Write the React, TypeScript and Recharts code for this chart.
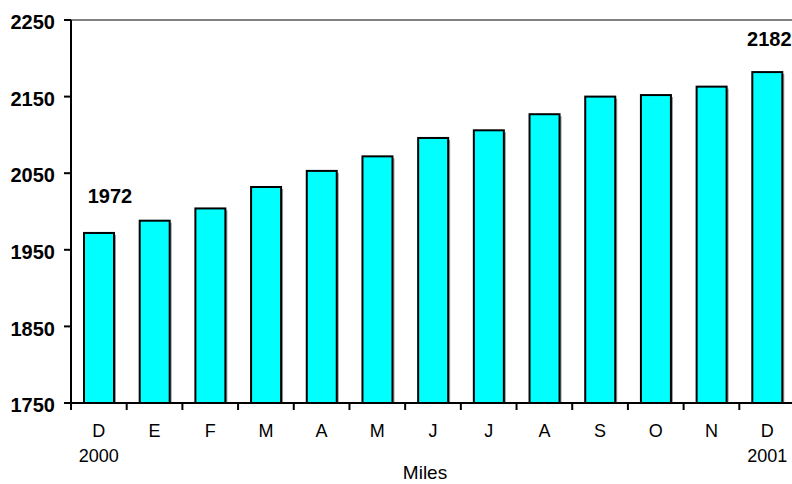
import React from "react";
import { BarChart, Bar, XAxis, YAxis, ReferenceLine, LabelList } from "recharts";

const MONTHS = ["D", "E", "F", "M", "A", "M", "J", "J", "A", "S", "O", "N", "D"];
const YEARS = ["2000", "", "", "", "", "", "", "", "", "", "", "", "2001"];
const MILES = [1972, 1988, 2004, 2032, 2053, 2072, 2096, 2106, 2127, 2150, 2152, 2163, 2182];
const Y_TICKS = [1750, 1850, 1950, 2050, 2150, 2250];

const data = MONTHS.map((m, i) => ({ month: m, year: YEARS[i], miles: MILES[i] }));

const FONT = '"Liberation Sans", Arial, sans-serif';

function ShadowBar(props: any) {
  const { x, y, width, height } = props;
  if (height <= 0) return null;
  return (
    <g>
      <rect x={x + 2} y={y + 2} width={width} height={height - 2} fill="#9a9a9a" />
      <rect x={x} y={y} width={width} height={height} fill="#00FFFF" stroke="#000" strokeWidth={2} />
    </g>
  );
}

function MonthTick(props: any) {
  const { x, y, payload } = props;
  const idx = props.index ?? payload.index ?? 0;
  const half = payload.offset ?? 27.85;
  const year = YEARS[idx];
  return (
    <g>
      <line x1={x - half} x2={x - half} y1={y} y2={y + 7} stroke="#000" strokeWidth={2} />
      <text x={x} y={y + 34} textAnchor="middle" fontSize={18} fill="#000">
        {payload.value}
      </text>
      {year ? (
        <text x={x} y={y + 59} textAnchor="middle" fontSize={18} fill="#000">
          {year}
        </text>
      ) : null}
    </g>
  );
}

function EndLabel(props: any) {
  const { x, y, width, index, value } = props;
  if (index !== 0 && index !== MILES.length - 1) return null;
  const dx = index === 0 ? 11 : 2;
  const lift = index === 0 ? 30 : 26;
  return (
    <text x={x + width / 2 + dx} y={y - lift} textAnchor="middle" fontSize={20} fontWeight="bold" fill="#000">
      {value}
    </text>
  );
}

export default function App() {
  return (
    <div
      style={{
        position: "absolute",
        left: 0,
        top: 0,
        width: 792,
        height: 484,
        overflow: "hidden",
        background: "#fff",
        fontFamily: FONT,
      }}
    >
      <BarChart
        width={800}
        height={484}
        data={data}
        margin={{ top: 20, right: 5, bottom: 0, left: 0 }}
        barSize={30}
      >
        <ReferenceLine y={2250} stroke="#808080" strokeWidth={2} />
        <XAxis
          dataKey="month"
          height={81}
          tickSize={0}
          tickMargin={0}
          tickLine={false}
          axisLine={{ stroke: "#000", strokeWidth: 2 }}
          interval={0}
          tick={<MonthTick />}
          label={{ value: "Miles", position: "insideBottom", offset: 5, dx: -8, fontSize: 19, fill: "#000" }}
        />
        <YAxis
          width={71}
          domain={[1750, 2250]}
          ticks={Y_TICKS}
          allowDataOverflow
          interval={0}
          tickSize={7}
          tickMargin={9}
          axisLine={{ stroke: "#000", strokeWidth: 2 }}
          tickLine={{ stroke: "#000", strokeWidth: 2 }}
          tick={{ fontSize: 20, fontWeight: "bold", fill: "#000", dy: 2 }}
        />
        <Bar dataKey="miles" shape={<ShadowBar />} isAnimationActive={false}>
          <LabelList dataKey="miles" content={<EndLabel />} />
        </Bar>
      </BarChart>
    </div>
  );
}
